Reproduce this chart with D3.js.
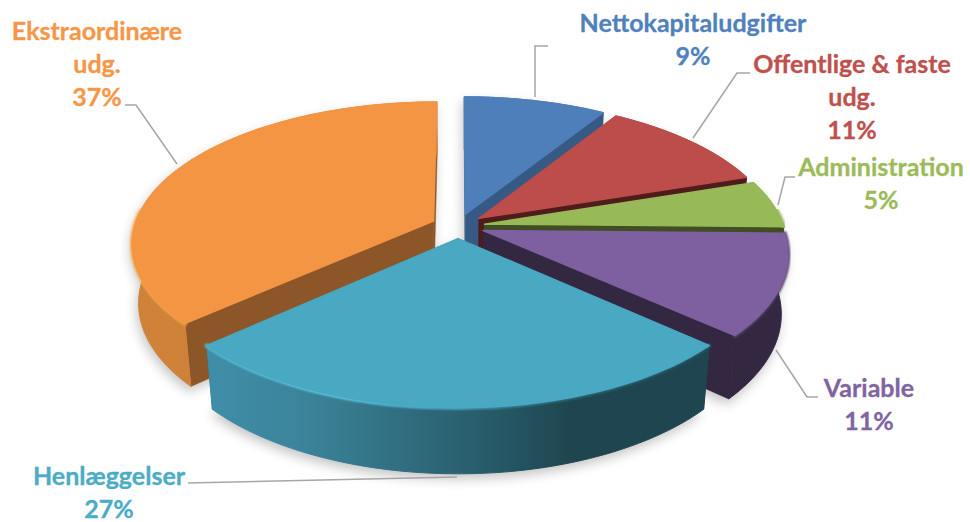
<!DOCTYPE html>
<html lang="da">
<head>
<meta charset="utf-8">
<title>Udgifter</title>
<script src="https://d3js.org/d3.v7.min.js"></script>
<style>
  html, body { margin: 0; background: #fff; }
  svg { display: block; }
  .lbl { font-family: Lato, "Open Sans", sans-serif; font-weight: 700; font-size: 25px; text-anchor: middle; stroke-width: 0.3px; }
</style>
</head>
<body>
<script>
// data, read off the picture (shares are estimated from the slice angles)
const categories = ["Nettokapitaludgifter", "Offentlige & faste udg.", "Administration", "Variable", "Henlæggelser", "Ekstraordinære udg."];
const shares = [8.9, 11.0, 5.4, 11.4, 26.6, 36.7];
const labelLines = [["Nettokapitaludgifter"], ["Offentlige & faste", "udg."], ["Administration"], ["Variable"], ["Henlæggelser"], ["Ekstraordinære", "udg."]];

// colours
const topColors = ["#4f7fba", "#bc4d4a", "#98b957", "#7e60a0", "#49a8c2", "#f49543"];
const textColors = ["#4f81bd", "#c0504d", "#9bbb59", "#8064a2", "#4bacc6", "#f79646"];
const cutColors = ["#365a84", "#4e1c1b", "#414e24", "#332742", "#1f4650", "#8c5628"];
const wallStops = [
  [[0, "#365a84"], [1, "#365a84"]],
  [[0, "#4e1c1b"], [1, "#4e1c1b"]],
  [[0, "#414e24"], [1, "#414e24"]],
  [[0, "#332742"], [1, "#332742"]],
  [[0, "#3f8ea9"], [0.2, "#3b8399"], [0.55, "#275c6b"], [0.72, "#1f4650"], [1, "#1f4650"]],
  [[0, "#d08238"], [1, "#c97e38"]]
];
const rimStops = [
  [[0, "#4f7fba"], [1, "#4f7fba"]],
  [[0, "#bc4d4a"], [1, "#bc4d4a"]],
  [[0, "#98b957"], [1, "#98b957"]],
  [[0, "#5f4a7a"], [1, "#4a3a60"]],
  [[0, "#58bcd8"], [0.28, "#62d0f0"], [0.5, "#4aa8c2"], [0.7, "#2f7386"], [1, "#245a68"]],
  [[0, "#fbaa52"], [1, "#f9a24c"]]
];

// layout
const width = 970, height = 522;
const cx = 458, cy = 226;          // pie centre on screen
const radiusX = 299, radiusZ = 138.7, depth = 60;
const persp = 0.154, perspH = 0.02; // perspective strength, on the plane and over the height
const explode = 0.09;

const labelPos = [[693, 32], [852, 73], [881, 176], [869, 397], [109, 485], [97, 40]];
const lineHeight = 33;
const leaders = [
  [[535, 97], [535, 46], [548, 46]],
  [[693, 138], [737, 73], [750, 73]],
  [[778, 205], [785, 177], [795, 177]],
  [[776, 350], [807, 397], [818, 397]],
  [[457, 477], [188, 483]],
  [[177, 164], [136, 105], [125, 105]]
];

const project = (X, Z, h) => {
  const w = 1 + persp * Z + perspH * h;
  return [cx + radiusX * X / w, cy + (-radiusZ * Z + depth * h) / w];
};

const pie = d3.pie().sort(null).value(d => d);
const slices = pie(shares).map((s, i) => {
  const mid = (s.startAngle + s.endAngle) / 2;
  return { ...s, i, ox: explode * Math.sin(mid), oz: explode * Math.cos(mid) };
});

const rimAngles = s => d3.range(0, 61).map(k => s.startAngle + (s.endAngle - s.startAngle) * k / 60);
const rim = (s, h) => rimAngles(s).map(a => project(s.ox + Math.sin(a), s.oz + Math.cos(a), h));
const apex = (s, h) => project(s.ox, s.oz, h);
const line = d3.line();

const svg = d3.select("body").append("svg").attr("width", width).attr("height", height);
const defs = svg.append("defs");

const addGradient = (id, stops, x1, x2) => {
  const g = defs.append("linearGradient").attr("id", id)
    .attr("gradientUnits", "userSpaceOnUse")
    .attr("x1", x1).attr("x2", x2).attr("y1", 0).attr("y2", 0);
  stops.forEach(st => g.append("stop").attr("offset", st[0]).attr("stop-color", st[1]));
};

defs.append("filter").attr("id", "shadowBlur").attr("x", "-20%").attr("y", "-20%").attr("width", "140%").attr("height", "140%")
  .append("feGaussianBlur").attr("stdDeviation", 6);
defs.append("filter").attr("id", "rimBlur").attr("x", "-5%").attr("y", "-5%").attr("width", "110%").attr("height", "110%")
  .append("feGaussianBlur").attr("stdDeviation", 1.1);

// soft shadow under everything
const shadow = svg.append("g").attr("filter", "url(#shadowBlur)").attr("opacity", 0.32)
  .attr("transform", "translate(-2,5)");
slices.forEach(s => {
  shadow.append("path").attr("fill", "#444")
    .attr("d", line([apex(s, 1), ...rim(s, 1)]) + "Z");
});
slices.forEach(s => {
  shadow.append("path").attr("fill", "#444")
    .attr("d", line([apex(s, 0), ...rim(s, 0)]) + "Z");
});

// back to front: orange first, then clockwise round to teal
const order = [5, 0, 1, 2, 3, 4];
order.forEach(idx => {
  const s = slices[idx];
  const g = svg.append("g").attr("class", "slice");
  const top = rim(s, 0), bottom = rim(s, 1);
  const xs = top.concat(bottom).map(p => p[0]);
  const x0 = d3.min(xs), x1 = d3.max(xs);
  addGradient("wall" + idx, wallStops[idx], x0, x1);
  addGradient("rim" + idx, rimStops[idx], x0, x1);

  // cut faces
  [0, top.length - 1].forEach(e => {
    g.append("path").attr("fill", cutColors[idx]).attr("stroke", cutColors[idx]).attr("stroke-width", 0.5)
      .attr("d", line([apex(s, 0), top[e], bottom[e], apex(s, 1)]) + "Z");
  });
  // outer wall
  g.append("path").attr("fill", `url(#wall${idx})`).attr("stroke", `url(#wall${idx})`).attr("stroke-width", 1)
    .attr("stroke-linejoin", "round")
    .attr("d", line([...top, ...bottom.slice().reverse()]) + "Z");
  // bevel along the front of the rim only, the back has none
  const front = top.filter((p, k) => Math.cos(rimAngles(s)[k]) < 0.1);
  if (front.length) {
    g.append("path").attr("fill", "none").attr("stroke", `url(#rim${idx})`).attr("stroke-width", 4)
      .attr("stroke-linecap", "round")
      .attr("filter", "url(#rimBlur)").attr("d", line(front));
  }
  // top face
  g.append("path").attr("fill", topColors[idx]).attr("stroke", topColors[idx]).attr("stroke-width", 1.5)
    .attr("stroke-linejoin", "round")
    .attr("d", line([apex(s, 0), ...top]) + "Z");
});

// leader lines
svg.append("g").selectAll("path").data(leaders).join("path")
  .attr("fill", "none").attr("stroke", "#a6a6a6").attr("stroke-width", 1.5)
  .attr("d", d => line(d));

// labels
const pct = d3.format(".0f");
const labels = svg.append("g").selectAll("text").data(slices).join("text")
  .attr("class", "lbl")
  .attr("fill", d => textColors[d.i])
  .attr("stroke", d => textColors[d.i]);
labels.each(function (d) {
  const t = d3.select(this);
  const [x, y] = labelPos[d.i];
  labelLines[d.i].concat(pct(shares[d.i]) + "%").forEach((txt, k) => {
    t.append("tspan").attr("x", x).attr("y", y + k * lineHeight).text(txt);
  });
});
</script>
</body>
</html>
